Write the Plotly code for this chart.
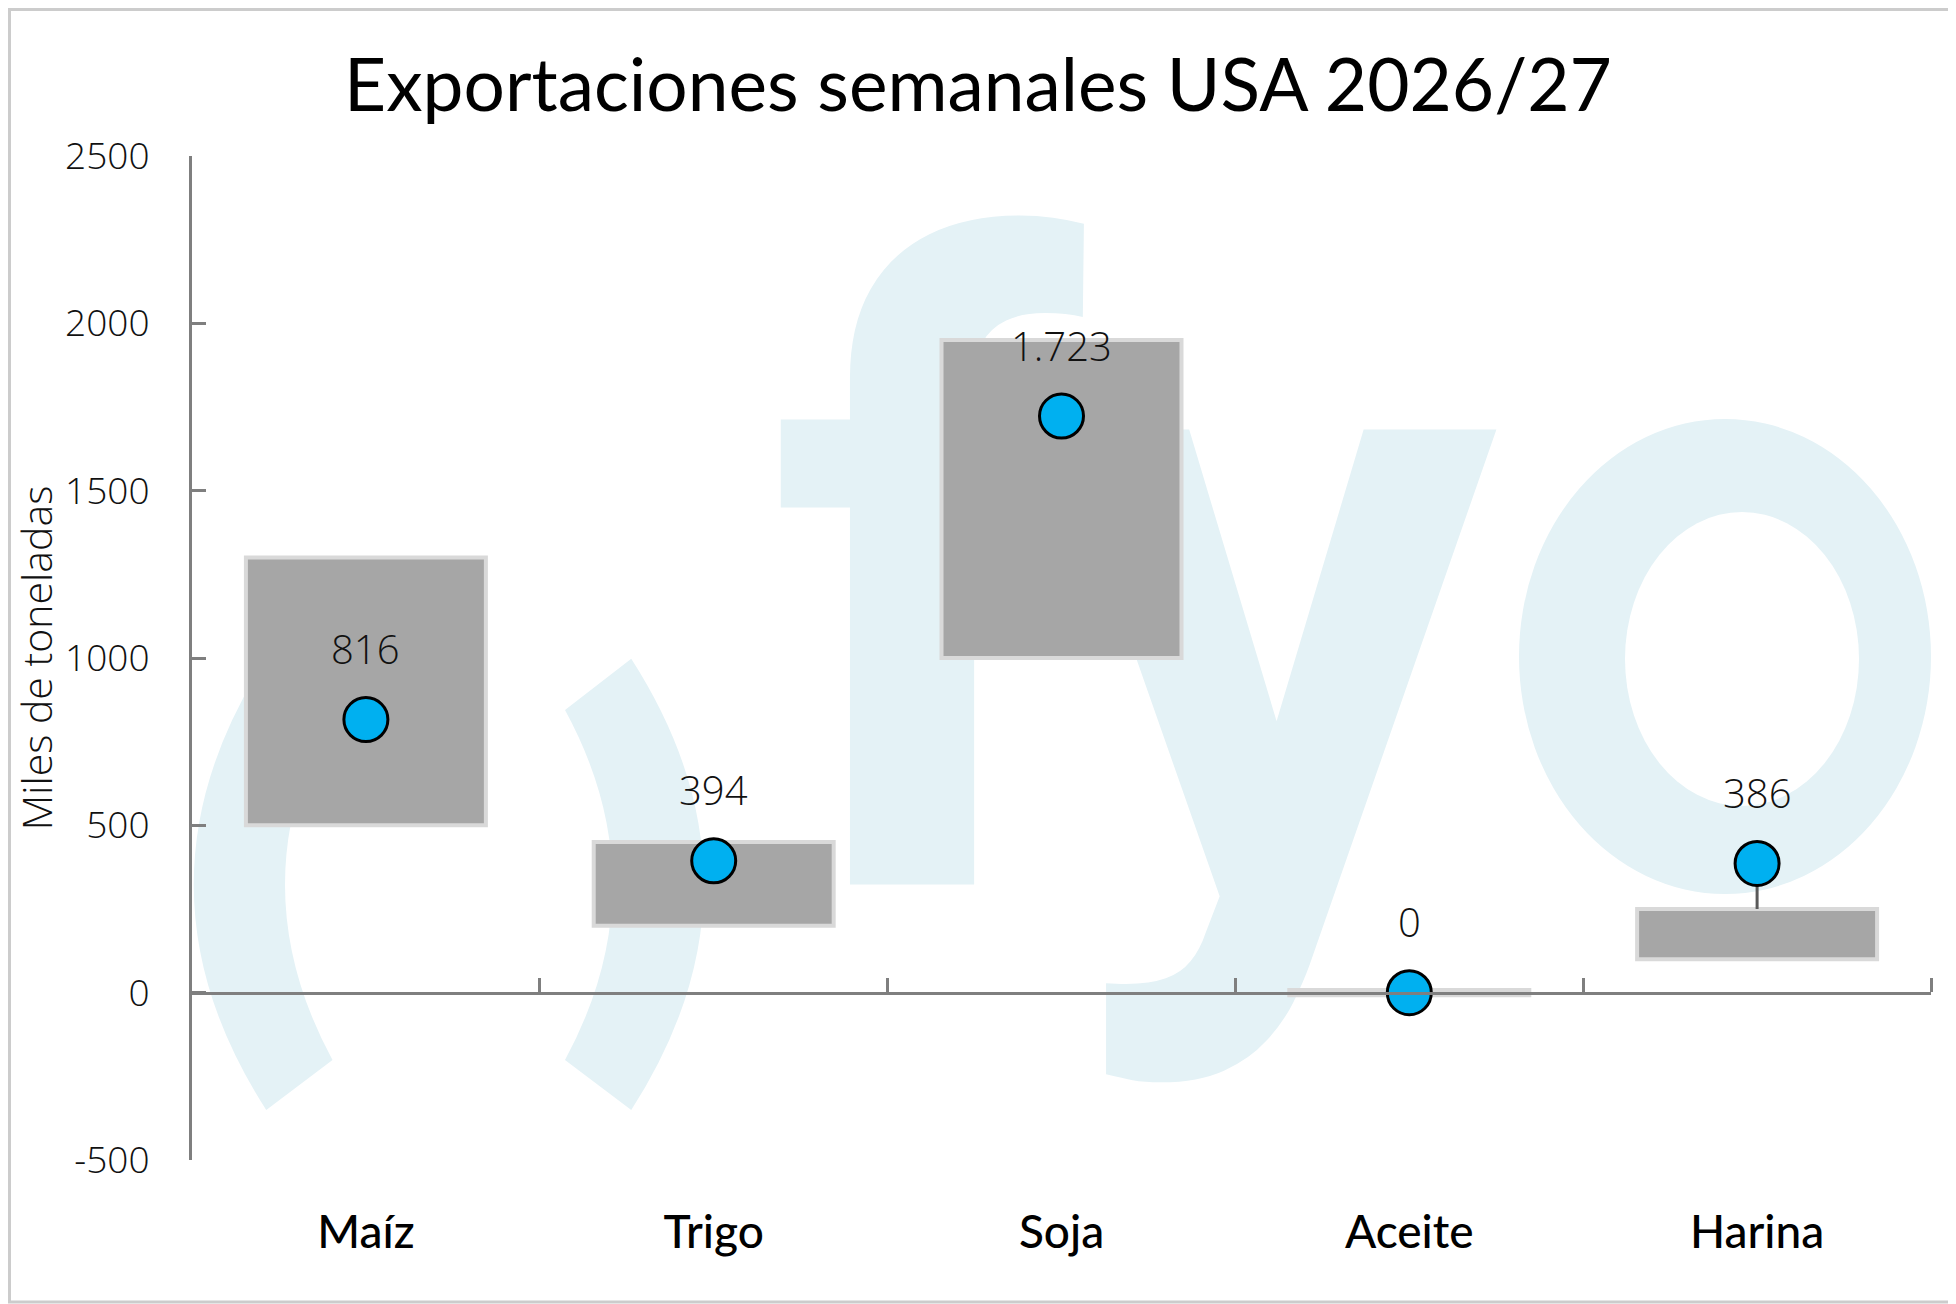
import plotly.graph_objects as go

# Datos: rango semanal (min-max) y valor de la semana, miles de toneladas
categorias = ["Maíz", "Trigo", "Soja", "Aceite", "Harina"]
rango_min = [500, 200, 1000, -8, 100]
rango_max = [1300, 450, 1950, 8, 250]
semana = [816, 394, 1723, 0, 386]
y_ticks = [-500, 0, 500, 1000, 1500, 2000, 2500]

W, H = 1956, 1304
OFF = 8  # margen del body de la pagina
ML, MR, MT, MB = 192 - OFF, 25 + OFF, 156 - OFF, 144 + OFF
PW, PH = W - ML - MR, H - MT - MB

GRIS_EJE = "#7f7f7f"
AZUL = "#00b0f0"
MARCA = "#e4f2f6"


def fx(xa):
    # coordenada de pagina (px) -> fraccion de paper
    return (xa - OFF - ML) / PW


def fy(ya):
    return (H - MB - (ya - OFF)) / PH


def fmt(v):
    return f"{v:,}".replace(",", ".")


pos = list(range(len(categorias)))

fig = go.Figure()

fig.add_trace(go.Bar(
    x=pos, y=[hi - lo for lo, hi in zip(rango_min, rango_max)], base=rango_min,
    width=0.69, marker=dict(color="#a6a6a6", line=dict(color="#d9d9d9", width=4)),
    hoverinfo="skip", showlegend=False))

# linea que une el punto con el rango cuando queda afuera
for i in pos:
    if semana[i] > rango_max[i] or semana[i] < rango_min[i]:
        borde = rango_max[i] if semana[i] > rango_max[i] else rango_min[i]
        fig.add_trace(go.Scatter(x=[i, i], y=[borde, semana[i]], mode="lines",
                                 line=dict(color="#595959", width=3),
                                 hoverinfo="skip", showlegend=False))

fig.add_trace(go.Scatter(
    x=pos, y=semana, mode="markers",
    marker=dict(size=44, color=AZUL, line=dict(color="black", width=3)),
    showlegend=False))

for i in pos:
    fig.add_annotation(x=i, y=semana[i], text=fmt(semana[i]), showarrow=False,
                       yshift=71, font=dict(family="Open Sans", size=40, color="#111111", weight=300))

shapes = []
# marca de agua "( )fyo"
for pts in [
    [(213, 527), (97, 707.5), (213, 888), (266, 848), (190, 707.5), (266, 568)],
    [(505, 527), (621, 707.5), (505, 888), (452, 848), (528, 707.5), (452, 568)],
]:
    p = [(fx(x * 1.25), fy(y * 1.25)) for x, y in pts]
    path = (f"M{p[0][0]},{p[0][1]} Q{p[1][0]},{p[1][1]} {p[2][0]},{p[2][1]} "
            f"L{p[3][0]},{p[3][1]} Q{p[4][0]},{p[4][1]} {p[5][0]},{p[5][1]} Z")
    shapes.append(dict(type="path", xref="paper", yref="paper", path=path,
                       fillcolor=MARCA, line=dict(width=0), layer="below"))

for letra, cx, cy in [("f", 926, 520), ("y", 1276, 530)]:
    shapes.append(dict(type="rect", xref="paper", yref="paper",
                       x0=fx(cx - 50), x1=fx(cx + 50), y0=fy(cy + 50), y1=fy(cy - 50),
                       line=dict(width=0), fillcolor="rgba(0,0,0,0)", layer="below",
                       label=dict(text=letra, textposition="middle center",
                                  font=dict(family="Roboto", size=880, color=MARCA, weight=700))))

for (x0, y0, x1, y1), color in [((1519, 419, 1931, 894), MARCA), ((1625, 512, 1859, 806), "white")]:
    shapes.append(dict(type="circle", xref="paper", yref="paper",
                       x0=fx(x0), x1=fx(x1), y0=fy(y1), y1=fy(y0),
                       fillcolor=color, line=dict(width=0), layer="below"))

# marco exterior
shapes.append(dict(type="rect", xref="paper", yref="paper",
                   x0=fx(OFF + 1.5), x1=fx(W - 2), y0=fy(H - 2), y1=fy(OFF + 1.5),
                   line=dict(color="#cccccc", width=3)))

fig.update_layout(
    width=W, height=H,
    margin=dict(l=ML, r=MR, t=MT, b=MB),
    paper_bgcolor="white", plot_bgcolor="rgba(0,0,0,0)",
    separators=",.",
    title=dict(text="Exportaciones semanales USA 2026/27", x=(978 - OFF) / W, xref="container",
               xanchor="center", y=1 - (85 - OFF) / H, yref="container", yanchor="middle",
               font=dict(family="Lato", size=73, color="black")),
    shapes=shapes,
    xaxis=dict(range=[-0.5, len(categorias) - 0.5], anchor="free",
               position=(0 - y_ticks[0]) / (y_ticks[-1] - y_ticks[0]),
               showline=True, linecolor=GRIS_EJE, linewidth=3,
               tickvals=pos, ticktext=categorias, ticks="",
               ticklabelstandoff=198,
               tickfont=dict(family="Lato", size=46, color="black", weight=500),
               minor=dict(tickvals=[i + 0.5 for i in pos], ticks="inside",
                          ticklen=14, tickwidth=3, tickcolor=GRIS_EJE),
               showgrid=False, zeroline=False, fixedrange=True),
    yaxis=dict(range=[y_ticks[0], y_ticks[-1]], tickvals=y_ticks,
               ticktext=[str(v) for v in y_ticks],
               ticks="inside", ticklen=14, tickwidth=3, tickcolor=GRIS_EJE,
               showline=True, linecolor=GRIS_EJE, linewidth=3,
               showgrid=False, zeroline=False, ticklabelstandoff=32,
               tickfont=dict(family="Open Sans", size=37, color="#111111", weight=300),
               title=dict(text="Miles de toneladas", standoff=4,
                          font=dict(family="Open Sans", size=41, color="#111111", weight=300))),
)

fig.write_html("out.html")
